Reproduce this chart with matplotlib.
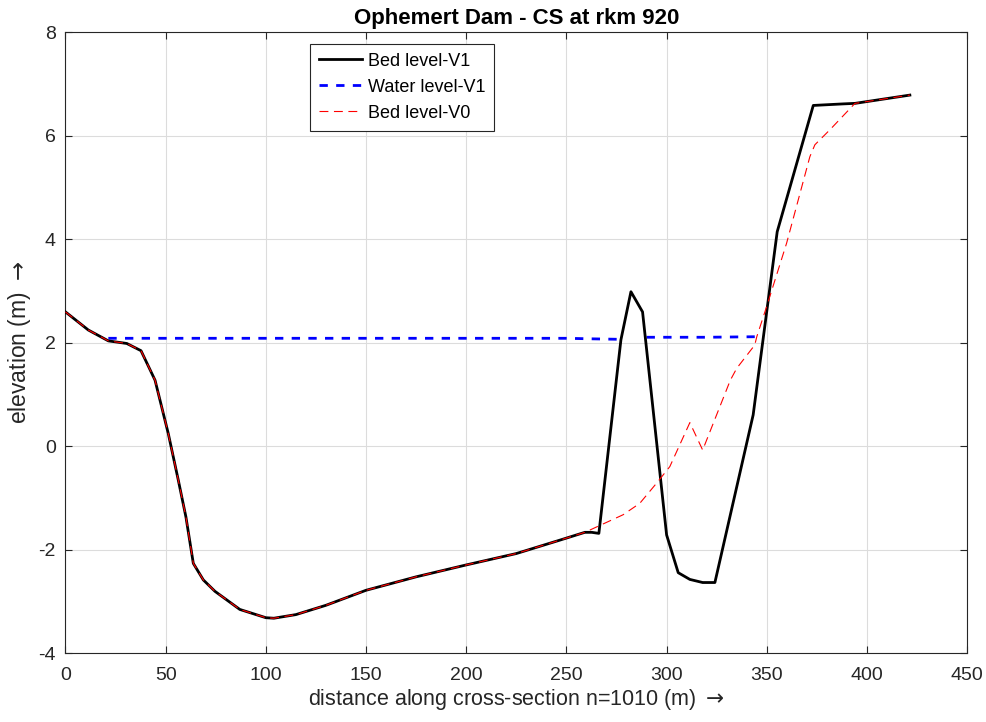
import matplotlib
matplotlib.use("Agg")
from matplotlib import pyplot as plt

plt.rcParams['font.family'] = ['Liberation Sans', 'DejaVu Sans']
plt.rcParams['axes.unicode_minus'] = False

# bed level, new design (V1)
bed_v1_x = [0, 11.4, 21.4, 30.6, 37.7, 44.7, 51.3, 56.3, 60.1, 63.8, 68.8, 74.6, 87,
            100, 104, 115, 130, 150, 175, 200, 225, 246.8, 259.2, 262.6, 266.2,
            277.2, 282.2, 288, 300, 305.8, 311.6, 318, 324.1, 343.2, 355.2,
            373.2, 378.1, 388.1, 394, 421.4]
bed_v1_y = [2.6, 2.25, 2.04, 1.99, 1.85, 1.28, 0.25, -0.65, -1.36, -2.26, -2.58, -2.8, -3.15,
            -3.31, -3.32, -3.25, -3.07, -2.78, -2.52, -2.29, -2.07, -1.81, -1.66, -1.66, -1.68,
            2.06, 2.99, 2.6, -1.71, -2.44, -2.57, -2.63, -2.63, 0.61, 4.15,
            6.59, 6.6, 6.62, 6.63, 6.79]

# bed level, original (V0)
bed_v0_x = [0, 11.4, 21.4, 30.6, 37.7, 44.7, 51.3, 56.3, 60.1, 63.8, 68.8, 74.6, 87,
            100, 104, 115, 130, 150, 175, 200, 225, 246.8, 259.2, 262.6,
            278.3, 286.6, 295, 301.6, 311.6, 318, 331.8, 335, 344, 345, 349.9,
            359.9, 371.5, 374, 381.5, 394, 421.4]
bed_v0_y = [2.6, 2.25, 2.04, 1.99, 1.85, 1.28, 0.25, -0.65, -1.36, -2.26, -2.58, -2.8, -3.15,
            -3.31, -3.32, -3.25, -3.07, -2.78, -2.52, -2.29, -2.07, -1.81, -1.66, -1.6,
            -1.32, -1.1, -0.71, -0.39, 0.46, -0.07, 1.28, 1.51, 1.96, 2.12, 2.7,
            3.93, 5.6, 5.83, 6.12, 6.63, 6.79]

# water level V1 (gap where the bump sticks out)
water_x = [21.4, 150, 250, 262, 277, float('nan'), 290, 320, 344]
water_y = [2.09, 2.09, 2.09, 2.08, 2.07, float('nan'), 2.11, 2.11, 2.12]

fig = plt.figure(figsize=(9.86, 7.22), dpi=100)
ax = fig.add_axes([0.0664, 0.095, 0.9145, 0.86])

ax.plot(bed_v1_x, bed_v1_y, color='black', lw=2, label='Bed level-V1', zorder=3)
ax.plot(water_x, water_y, color='blue', lw=2, ls=(0, (3, 3)), label='Water level-V1', zorder=2)
ax.plot(bed_v0_x, bed_v0_y, color='red', lw=0.8, ls=(0, (8, 5)), label='Bed level-V0', zorder=4)

ax.set_xlim(0, 450)
ax.set_ylim(-4, 8)
ax.set_xticks(range(0, 451, 50))
ax.set_yticks(range(-4, 9, 2))
ax.grid(True, color='#dcdcdc', lw=0.8)
ax.set_axisbelow(True)
ax.tick_params(direction='in', top=True, right=True, labelsize=14, colors='#262626', length=5)
ax.tick_params(axis='x', pad=10)
ax.tick_params(axis='y', pad=7)
for s in ax.spines.values():
    s.set_color('#262626')
    s.set_linewidth(0.8)

ax.set_title('Ophemert Dam - CS at rkm 920', fontsize=16, fontweight='bold', pad=6)
ax.set_xlabel('distance along cross-section n=1010 (m) $\\rightarrow$', fontsize=15.5,
              color='#262626', labelpad=2)
ax.set_ylabel('elevation (m) $\\rightarrow$', fontsize=16.5, color='#262626', labelpad=4)

leg = ax.legend(loc='upper left', bbox_to_anchor=(0.271, 0.982), borderaxespad=0,
                fontsize=13, fancybox=False, framealpha=1, edgecolor='#262626',
                handlelength=2.4, handletextpad=0.3, labelspacing=0.5, borderpad=0.5)
leg.get_frame().set_linewidth(0.8)

fig.savefig('out.png', dpi=100)
